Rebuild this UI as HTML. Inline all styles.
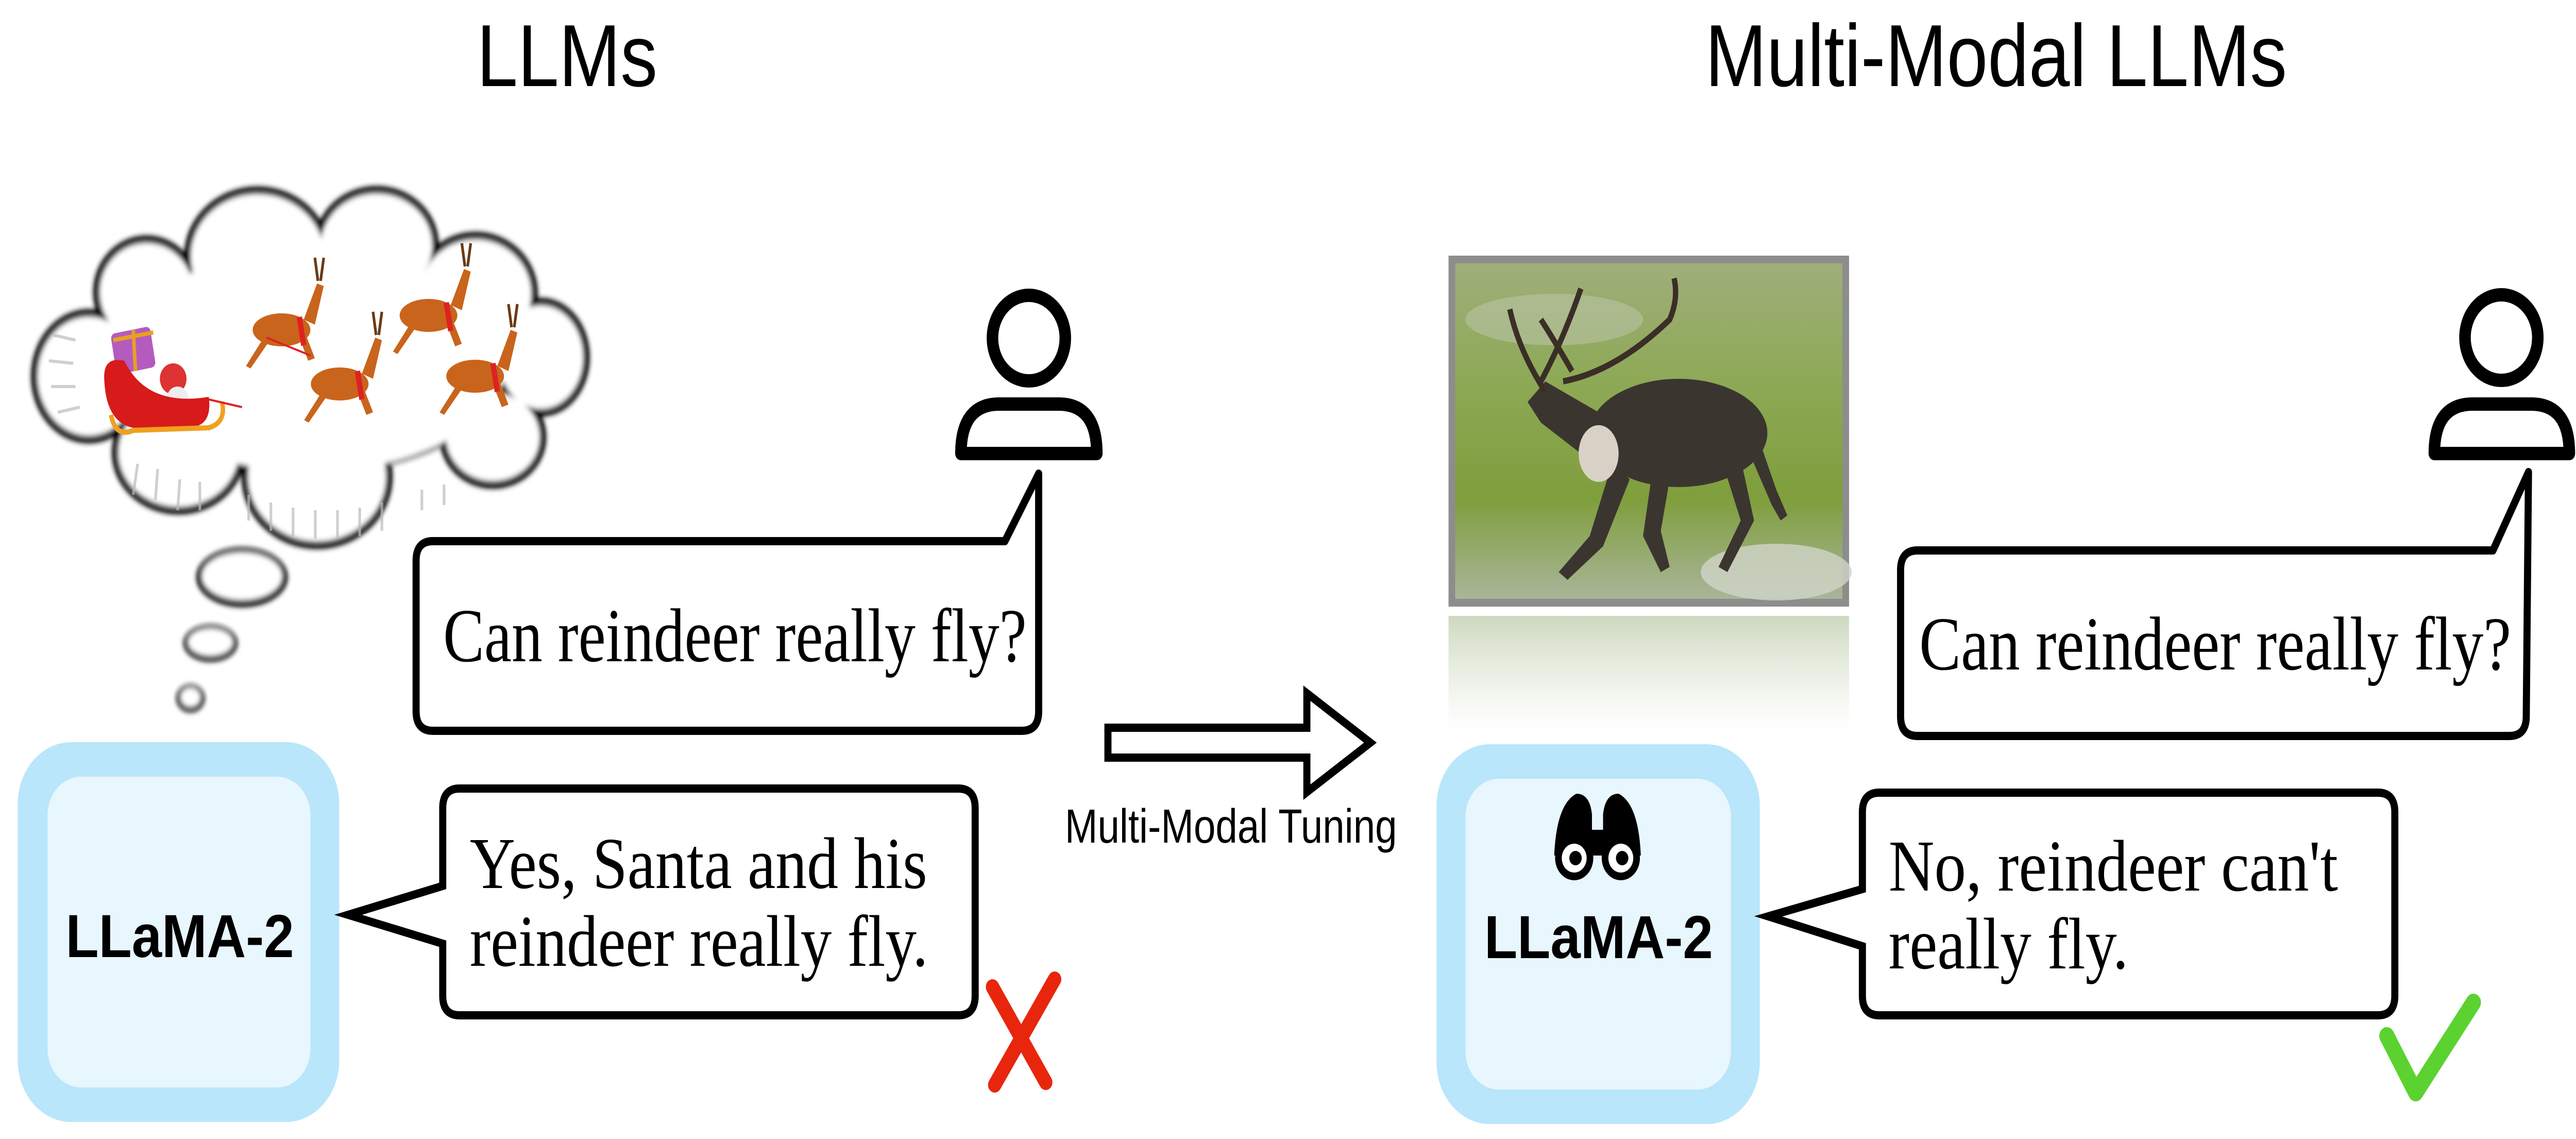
<!DOCTYPE html>
<html><head><meta charset="utf-8"><style>
html,body{margin:0;padding:0;background:#fff;width:100%;height:100%;overflow:hidden;}
svg{display:block;position:absolute;left:0;top:0;width:100vw;height:100vh;}
</style></head><body>
<svg viewBox="0 0 5801 2210" preserveAspectRatio="none" xmlns="http://www.w3.org/2000/svg">
<defs>
<linearGradient id="grass" x1="0" y1="0" x2="0" y2="1">
<stop offset="0" stop-color="#9fae7a"/><stop offset="0.35" stop-color="#8da956"/><stop offset="0.7" stop-color="#7f9e3c"/><stop offset="1" stop-color="#a9b59a"/>
</linearGradient>
<linearGradient id="refl" x1="0" y1="0" x2="0" y2="1">
<stop offset="0" stop-color="#c8d4b8" stop-opacity="0.9"/><stop offset="0.5" stop-color="#e2e8da" stop-opacity="0.6"/><stop offset="1" stop-color="#ffffff" stop-opacity="0"/>
</linearGradient>
<filter id="blur"><feGaussianBlur stdDeviation="5"/></filter>
</defs>

<text x="1277" y="167" font-family="Liberation Sans, sans-serif" font-size="171" text-anchor="middle" textLength="407" lengthAdjust="spacingAndGlyphs">LLMs</text>
<text x="4495" y="167" font-family="Liberation Sans, sans-serif" font-size="171" text-anchor="middle" textLength="1310" lengthAdjust="spacingAndGlyphs">Multi-Modal LLMs</text>

<g filter="url(#blur)">
<g fill="#000">
<ellipse cx="580" cy="497" rx="165" ry="135"/>
<ellipse cx="848" cy="476" rx="140" ry="115"/>
<ellipse cx="1071" cy="570" rx="140" ry="120"/>
<ellipse cx="1218" cy="693" rx="110" ry="115"/>
<ellipse cx="1110" cy="848" rx="120" ry="100"/>
<ellipse cx="714" cy="925" rx="170" ry="140"/>
<ellipse cx="402" cy="878" rx="150" ry="120"/>
<ellipse cx="200" cy="730" rx="130" ry="130"/>
<ellipse cx="330" cy="567" rx="120" ry="110"/>
<ellipse cx="700" cy="700" rx="450" ry="220"/>
</g>
<g fill="#fff">
<ellipse cx="580" cy="497" rx="150" ry="120"/>
<ellipse cx="848" cy="476" rx="125" ry="100"/>
<ellipse cx="1071" cy="570" rx="125" ry="105"/>
<ellipse cx="1218" cy="693" rx="95" ry="100"/>
<ellipse cx="1110" cy="848" rx="105" ry="85"/>
<ellipse cx="714" cy="925" rx="155" ry="125"/>
<ellipse cx="402" cy="878" rx="135" ry="105"/>
<ellipse cx="200" cy="730" rx="115" ry="115"/>
<ellipse cx="330" cy="567" rx="105" ry="95"/>
<ellipse cx="700" cy="700" rx="440" ry="215"/>
</g>
</g>
<g stroke="#bbb" stroke-width="6" opacity="0.7">
<path d="M120 650 L170 660 M110 700 L165 705 M115 750 L170 750 M130 800 L180 790 M300 960 L310 900 M350 970 L355 910 M400 990 L405 930 M450 990 L450 935 M560 1010 L560 960 M610 1030 L610 975 M660 1040 L660 985 M710 1045 L710 990 M760 1045 L760 990 M810 1040 L810 985 M860 1030 L860 975 M950 990 L950 950 M1000 980 L1000 940"/>
</g>
<g filter="url(#blur)">
<ellipse cx="545" cy="1120" rx="103" ry="58" fill="#000"/><ellipse cx="545" cy="1118" rx="90" ry="46" fill="#fff"/>
<ellipse cx="474" cy="1248" rx="61" ry="36" fill="#000"/><ellipse cx="474" cy="1246" rx="50" ry="26" fill="#fff"/>
<ellipse cx="429" cy="1355" rx="32" ry="27" fill="#000"/><ellipse cx="429" cy="1353" rx="22" ry="18" fill="#fff"/>
</g>

<g>
<rect x="255" y="640" width="90" height="80" rx="10" fill="#b45bbf" transform="rotate(-10 300 680)"/>
<path d="M255 660 L345 645 M300 640 L305 720" stroke="#e8a020" stroke-width="8"/>
<circle cx="390" cy="735" r="30" fill="#d33"/>
<circle cx="400" cy="775" r="25" fill="#eee"/>
<path d="M235 740 Q230 690 280 700 Q330 790 470 770 Q480 830 420 830 L300 830 Q240 820 235 740 Z" fill="#d71a1a"/>
<path d="M250 805 Q260 850 300 835 L470 830 Q510 820 500 780" stroke="#f0a020" stroke-width="10" fill="none"/>
</g>
<g fill="#c9641c">
<g transform="translate(634,640)"><ellipse cx="0" cy="0" rx="65" ry="32"/><path d="M50 -20 L80 -90 L95 -85 L75 -10 Z"/><path d="M-40 15 L-80 70 L-70 75 L-30 25 Z M40 15 L60 60 L75 55 L55 10Z"/><path d="M82 -95 L75 -140 M88 -95 L95 -140" stroke="#6a3a15" stroke-width="6"/><path d="M40 -25 L50 30" stroke="#d22" stroke-width="12"/></g>
<g transform="translate(765,745)"><ellipse cx="0" cy="0" rx="65" ry="32"/><path d="M50 -20 L80 -90 L95 -85 L75 -10 Z"/><path d="M-40 15 L-80 70 L-70 75 L-30 25 Z M40 15 L60 60 L75 55 L55 10Z"/><path d="M82 -95 L75 -140 M88 -95 L95 -140" stroke="#6a3a15" stroke-width="6"/><path d="M40 -25 L50 30" stroke="#d22" stroke-width="12"/></g>
<g transform="translate(965,612)"><ellipse cx="0" cy="0" rx="65" ry="32"/><path d="M50 -20 L80 -90 L95 -85 L75 -10 Z"/><path d="M-40 15 L-80 70 L-70 75 L-30 25 Z M40 15 L60 60 L75 55 L55 10Z"/><path d="M82 -95 L75 -140 M88 -95 L95 -140" stroke="#6a3a15" stroke-width="6"/><path d="M40 -25 L50 30" stroke="#d22" stroke-width="12"/></g>
<g transform="translate(1070,730)"><ellipse cx="0" cy="0" rx="65" ry="32"/><path d="M50 -20 L80 -90 L95 -85 L75 -10 Z"/><path d="M-40 15 L-80 70 L-70 75 L-30 25 Z M40 15 L60 60 L75 55 L55 10Z"/><path d="M82 -95 L75 -140 M88 -95 L95 -140" stroke="#6a3a15" stroke-width="6"/><path d="M40 -25 L50 30" stroke="#d22" stroke-width="12"/></g>
</g>
<path d="M470 775 L545 790 M600 655 L700 690" stroke="#d22" stroke-width="4"/>

<ellipse cx="2317" cy="656" rx="82" ry="83" fill="none" stroke="#000" stroke-width="26"/>
<path d="M2164 880 Q2164 784 2250 784 L2384 784 Q2470 784 2470 880 Z" fill="none" stroke="#000" stroke-width="26" stroke-linejoin="round"/>

<path d="M975 1050 L2263 1050 L2339 919 L2339 1380 Q2339 1418 2301 1418 L975 1418 Q937 1418 937 1380 L937 1088 Q937 1050 975 1050 Z" fill="#fff" stroke="#000" stroke-width="16" stroke-linejoin="round"/>
<text x="998" y="1283" font-family="Liberation Serif, serif" font-size="148" textLength="1314" lengthAdjust="spacingAndGlyphs">Can reindeer really fly?</text>

<rect x="40" y="1440" width="724" height="737" rx="120" fill="#b9e6fb"/>
<rect x="107" y="1507" width="592" height="603" rx="75" fill="#e8f6fd"/>
<text x="405" y="1857" font-family="Liberation Sans, sans-serif" font-weight="bold" font-size="118" text-anchor="middle" textLength="514" lengthAdjust="spacingAndGlyphs">LLaMA-2</text>

<path d="M1035 1530 L2158 1530 Q2196 1530 2196 1568 L2196 1932 Q2196 1970 2158 1970 L1035 1970 Q997 1970 997 1932 L997 1831 L784 1775 L997 1719 L997 1568 Q997 1530 1035 1530 Z" fill="#fff" stroke="#000" stroke-width="16" stroke-linejoin="miter"/>
<text x="1058" y="1723" font-family="Liberation Serif, serif" font-size="142" textLength="1030" lengthAdjust="spacingAndGlyphs">Yes, Santa and his</text>
<text x="1058" y="1874" font-family="Liberation Serif, serif" font-size="142" textLength="1032" lengthAdjust="spacingAndGlyphs">reindeer really fly.</text>

<path d="M2235 1915 L2355 2100 M2375 1900 L2240 2105" stroke="#e8260e" stroke-width="30" stroke-linecap="round"/>

<path d="M2495 1412 L2943 1412 L2943 1345 L3086 1441 L2943 1537 L2943 1470 L2495 1470 Z" fill="#fff" stroke="#000" stroke-width="16" stroke-linejoin="miter"/>
<text x="2398" y="1635" font-family="Liberation Sans, sans-serif" font-size="93" textLength="748" lengthAdjust="spacingAndGlyphs">Multi-Modal Tuning</text>

<rect x="3262" y="496" width="902" height="681" fill="#8d8d8d"/>
<rect x="3277" y="511" width="872" height="651" fill="url(#grass)"/>
<ellipse cx="3500" cy="620" rx="200" ry="50" fill="#b9c3a3" opacity="0.6"/>
<ellipse cx="4000" cy="1110" rx="170" ry="55" fill="#cfd5c8" opacity="0.8"/>
<g fill="#3b3530">
<ellipse cx="3780" cy="840" rx="200" ry="105"/>
<path d="M3600 800 L3480 740 L3440 780 L3470 820 L3560 880 Z"/>
<path d="M3630 900 L3580 1040 L3510 1110 L3530 1125 L3610 1060 L3670 930 Z"/>
<path d="M3720 920 L3700 1040 L3740 1110 L3760 1100 L3740 1030 L3760 930 Z"/>
<path d="M3880 900 L3920 1010 L3870 1100 L3890 1110 L3950 1010 L3920 890 Z"/>
<path d="M3930 860 L3990 980 L4010 1010 L4025 1000 L4000 950 L3960 850 Z"/>
</g>
<ellipse cx="3600" cy="880" rx="45" ry="55" fill="#d8d2c6"/>
<path d="M3480 760 Q3420 680 3400 600 M3470 740 Q3520 660 3560 560 M3520 740 Q3640 720 3760 620 Q3780 580 3770 540 M3540 720 Q3500 660 3470 620" stroke="#3a2e26" stroke-width="12" fill="none"/>
<rect x="3262" y="1195" width="902" height="260" fill="url(#refl)"/>

<ellipse cx="5633" cy="655" rx="82" ry="83" fill="none" stroke="#000" stroke-width="26"/>
<path d="M5482 880 Q5482 784 5568 784 L5700 784 Q5786 784 5786 880 Z" fill="none" stroke="#000" stroke-width="26" stroke-linejoin="round"/>

<path d="M4318 1068 L5614 1068 L5694 916 L5689 1390 Q5689 1428 5651 1428 L4318 1428 Q4280 1428 4280 1390 L4280 1106 Q4280 1068 4318 1068 Z" fill="#fff" stroke="#000" stroke-width="16" stroke-linejoin="round"/>
<text x="4322" y="1299" font-family="Liberation Serif, serif" font-size="148" textLength="1333" lengthAdjust="spacingAndGlyphs">Can reindeer really fly?</text>

<rect x="3235" y="1444" width="728" height="737" rx="120" fill="#b9e6fb"/>
<rect x="3300" y="1511" width="598" height="603" rx="75" fill="#e8f6fd"/>
<g>
<path d="M3500 1660 Q3505 1560 3550 1540 Q3580 1540 3585 1580 L3585 1610 L3610 1610 L3610 1580 Q3615 1540 3645 1540 Q3690 1560 3695 1660 Z" fill="#000"/>
<circle cx="3545" cy="1665" r="43" fill="#000"/><circle cx="3650" cy="1665" r="43" fill="#000"/>
<circle cx="3545" cy="1665" r="28" fill="#fff"/><circle cx="3650" cy="1665" r="28" fill="#fff"/>
<circle cx="3548" cy="1665" r="14" fill="#000"/><circle cx="3653" cy="1665" r="14" fill="#000"/>
</g>
<text x="3600" y="1859" font-family="Liberation Sans, sans-serif" font-weight="bold" font-size="118" text-anchor="middle" textLength="515" lengthAdjust="spacingAndGlyphs">LLaMA-2</text>

<path d="M4232 1538 L5355 1538 Q5393 1538 5393 1576 L5393 1932 Q5393 1970 5355 1970 L4232 1970 Q4194 1970 4194 1932 L4194 1836 L3982 1778 L4194 1725 L4194 1576 Q4194 1538 4232 1538 Z" fill="#fff" stroke="#000" stroke-width="16" stroke-linejoin="miter"/>
<text x="4253" y="1728" font-family="Liberation Serif, serif" font-size="142" textLength="1012" lengthAdjust="spacingAndGlyphs">No, reindeer can't</text>
<text x="4253" y="1879" font-family="Liberation Serif, serif" font-size="142" textLength="540" lengthAdjust="spacingAndGlyphs">really fly.</text>

<path d="M5375 2010 L5440 2120 L5570 1945" fill="none" stroke="#5bd22f" stroke-width="34" stroke-linecap="round" stroke-linejoin="round"/>
</svg>
</body></html>
